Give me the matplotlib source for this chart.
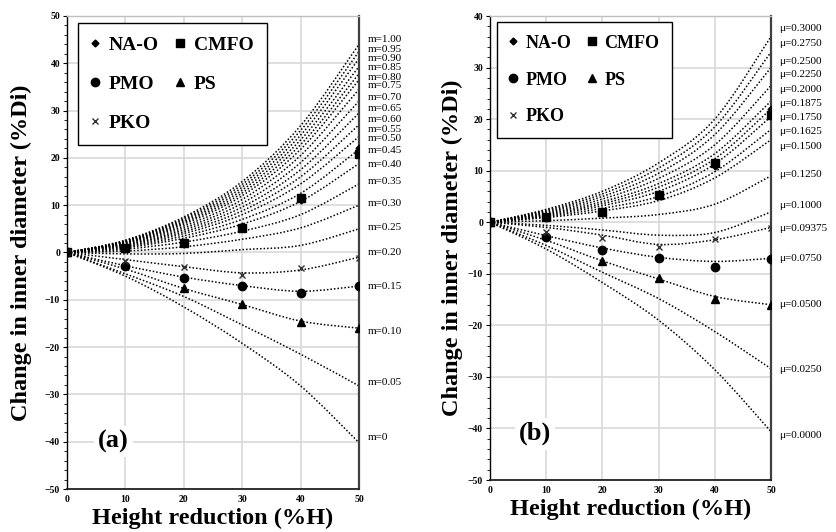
import numpy as np
import matplotlib
matplotlib.use('Agg')
import matplotlib.pyplot as plt
from matplotlib.path import Path
from matplotlib.patches import PathPatch
from matplotlib.ticker import MultipleLocator

plt.rcParams['font.family'] = ['Liberation Serif', 'DejaVu Serif']

# height reduction (%H)
h = [0, 10, 20, 30, 40, 50]

# measured rings (same data in both panels)
na_o = [0, 0.8, 1.8, 5.5, 11.0, 22.0]
cmfo = [0, 1.0, 2.0, 5.2, 11.5, 20.8]
pmo = [0, -2.9, -5.3, -7.0, -8.6, -7.1]
ps = [0, -2.5, -7.6, -10.8, -14.8, -16.0]
pko = [0, -1.8, -3.1, -4.8, -3.3, -1.1]

# calibration curves, friction factor m
m_names = ['m=1.00', 'm=0.95', 'm=0.90', 'm=0.85', 'm=0.80', 'm=0.75', 'm=0.70',
           'm=0.65', 'm=0.60', 'm=0.55', 'm=0.50', 'm=0.45', 'm=0.40', 'm=0.35',
           'm=0.30', 'm=0.25', 'm=0.20', 'm=0.15', 'm=0.10', 'm=0.05', 'm=0']
m_curves = [
    [0, 2.6, 7.5, 15.0, 26.8, 44.0],
    [0, 2.5, 7.2, 14.4, 25.8, 42.5],
    [0, 2.4, 6.9, 13.8, 24.8, 41.0],
    [0, 2.3, 6.6, 13.2, 23.8, 39.3],
    [0, 2.2, 6.3, 12.6, 22.8, 37.8],
    [0, 2.1, 6.0, 12.0, 21.8, 36.5],
    [0, 2.0, 5.6, 11.2, 20.5, 34.5],
    [0, 1.9, 5.2, 10.4, 19.0, 32.0],
    [0, 1.7, 4.8, 9.6, 17.5, 29.5],
    [0, 1.6, 4.4, 8.8, 16.0, 27.0],
    [0, 1.4, 4.0, 8.0, 14.5, 24.5],
    [0, 1.2, 3.5, 7.0, 12.5, 21.8],
    [0, 1.0, 3.0, 6.0, 10.8, 18.8],
    [0, 0.7, 2.2, 4.5, 8.0, 14.5],
    [0, 0.3, 1.2, 2.8, 5.2, 10.0],
    [0, -0.3, -0.2, 0.6, 1.5, 5.0],
    [0, -1.5, -3.0, -4.3, -3.7, -1.0],
    [0, -2.8, -5.2, -7.0, -8.2, -7.1],
    [0, -3.5, -7.6, -11.0, -14.5, -16.0],
    [0, -4.5, -9.3, -15.3, -21.5, -28.2],
    [0, -5.0, -11.5, -19.2, -28.2, -40.2],
]
m_label_y = [45.1, 42.9, 41.0, 39.1, 37.0, 35.3, 32.7, 30.5, 28.2, 26.1, 24.2,
             21.5, 18.7, 15.1, 10.4, 5.2, 0.1, -7.1, -16.6, -27.5, -39.2]

# calibration curves, friction coefficient mu
mu_names = ['\u03bc=0.3000', '\u03bc=0.2750', '\u03bc=0.2500', '\u03bc=0.2250',
            '\u03bc=0.2000', '\u03bc=0.1875', '\u03bc=0.1750', '\u03bc=0.1625',
            '\u03bc=0.1500', '\u03bc=0.1250', '\u03bc=0.1000', '\u03bc=0.09375',
            '\u03bc=0.0750', '\u03bc=0.0500', '\u03bc=0.0250', '\u03bc=0.0000']
mu_curves = [
    [0, 2.5, 6.0, 11.5, 20.0, 36.0],
    [0, 2.3, 5.5, 10.5, 18.5, 33.0],
    [0, 2.1, 5.0, 9.5, 17.0, 30.0],
    [0, 1.9, 4.5, 8.5, 15.0, 26.5],
    [0, 1.7, 4.0, 7.5, 13.3, 23.5],
    [0, 1.5, 3.6, 6.8, 12.3, 22.0],
    [0, 1.3, 3.2, 6.0, 11.3, 20.5],
    [0, 1.1, 2.7, 5.0, 9.8, 18.0],
    [0, 0.9, 2.2, 4.2, 8.6, 16.0],
    [0, 0.3, 0.8, 1.5, 3.5, 9.0],
    [0, -0.6, -1.5, -2.5, -2.0, 2.0],
    [0, -1.0, -2.5, -4.3, -3.4, -1.0],
    [0, -2.6, -5.0, -6.8, -7.6, -7.0],
    [0, -3.5, -7.5, -11.0, -14.4, -16.0],
    [0, -4.5, -9.7, -14.8, -21.2, -28.4],
    [0, -5.2, -11.7, -19.0, -28.6, -40.6],
]
mu_label_y = [37.6, 34.7, 31.2, 28.6, 25.7, 23.1, 20.4, 17.6, 14.6, 9.2, 3.2,
              -1.2, -7.0, -16.0, -28.5, -41.3]


def smooth_curve(ax, xs, ys):
    # smoothed line through the points (Catmull-Rom as cubic Bezier)
    p = np.column_stack([xs, ys]).astype(float)
    n = len(p)
    verts = [p[0]]
    codes = [Path.MOVETO]
    for i in range(n - 1):
        p0 = p[i - 1] if i > 0 else p[i]
        p3 = p[i + 2] if i + 2 < n else p[i + 1]
        verts += [p[i] + (p[i + 1] - p0) / 6, p[i + 1] - (p3 - p[i]) / 6, p[i + 1]]
        codes += [Path.CURVE4] * 3
    ax.add_patch(PathPatch(Path(verts, codes), fill=False, ec='black',
                           lw=1.1, ls=(0, (1, 1.3)), zorder=2))


def panel(ax, curves, names, label_y, ymin, ymax, tag, leg_size, leg_anchor):
    for c in curves:
        smooth_curve(ax, h, c)
    for name, ly in zip(names, label_y):
        ax.text(51.5, ly, name, fontsize=8, va='center', ha='left', clip_on=False)

    l1, = ax.plot(h, cmfo, 's', color='black', ms=5.8, label='CMFO', zorder=4)
    l2, = ax.plot(h, pmo, 'o', color='black', ms=6, label='PMO', zorder=4)
    l3, = ax.plot(h, ps, '^', color='black', ms=5.8, label='PS', zorder=4)
    l4, = ax.plot(h, pko, 'x', color='#333333', ms=5, mew=1.0, label='PKO', zorder=4)
    l0, = ax.plot(h, na_o, 'D', color='black', ms=3.5, label='NA-O', zorder=5)

    leg = ax.legend([l0, l2, l4, l1, l3], ['NA-O', 'PMO', 'PKO', 'CMFO', 'PS'],
                    ncol=2, loc='upper left', bbox_to_anchor=leg_anchor,
                    borderaxespad=0, prop={'weight': 'bold', 'size': leg_size},
                    fancybox=False, edgecolor='black', framealpha=1,
                    labelspacing=1.1, handlelength=0.4, handletextpad=0.5,
                    columnspacing=0.9, borderpad=0.7)
    leg.get_frame().set_linewidth(1.0)
    leg.set_zorder(6)

    ax.set_xlim(0, 50)
    ax.set_ylim(ymin, ymax)
    ax.xaxis.set_major_locator(MultipleLocator(10))
    ax.yaxis.set_major_locator(MultipleLocator(10))
    ax.yaxis.set_minor_locator(MultipleLocator(2))
    ax.grid(True, which='major', color='#d9d9d9', lw=1.2, zorder=0)
    ax.set_axisbelow(True)
    ax.tick_params(axis='x', length=0, pad=4, labelsize=7)
    ax.tick_params(axis='y', which='major', direction='out', length=3, width=0.8,
                   pad=2, labelsize=7)
    ax.tick_params(axis='y', which='minor', direction='out', length=2, width=0.6)
    for lab in ax.get_xticklabels() + ax.get_yticklabels():
        lab.set_fontweight('bold')

    ax.spines['left'].set_color('black')
    ax.spines['left'].set_linewidth(1.0)
    ax.spines['bottom'].set_color('#222222')
    ax.spines['bottom'].set_linewidth(1.3)
    ax.spines['right'].set_color('#404040')
    ax.spines['right'].set_linewidth(1.6)
    ax.spines['top'].set_color('#bfbfbf')
    ax.spines['top'].set_linewidth(1.0)

    ax.set_xlabel('Height reduction (%H)', fontsize=17.5, fontweight='bold')
    ax.set_ylabel('Change in inner diameter (%Di)', fontsize=17.5, fontweight='bold')

    ax.text(8, ymin + (ymax - ymin) * 0.1, tag, fontsize=19, fontweight='bold',
            ha='center', va='center', zorder=5,
            bbox=dict(fc='white', ec='none', pad=3))


fig = plt.figure(figsize=(8.36, 5.32), dpi=100)
ax1 = fig.add_axes([0.0801, 0.0808, 0.3493, 0.8892])
ax2 = fig.add_axes([0.5861, 0.0977, 0.3361, 0.8722])

panel(ax1, m_curves, m_names, m_label_y, -50, 50, '(a)', 14, (0.037, 0.986))
panel(ax2, mu_curves, mu_names, mu_label_y, -50, 40, '(b)', 13, (0.025, 0.987))

ax1.yaxis.set_label_coords(-0.12, 0.5)
ax1.xaxis.set_label_coords(0.5, -0.039)
ax2.yaxis.set_label_coords(-0.095, 0.5)
ax2.xaxis.set_label_coords(0.5, -0.041)

fig.savefig('out.png', dpi=100)
